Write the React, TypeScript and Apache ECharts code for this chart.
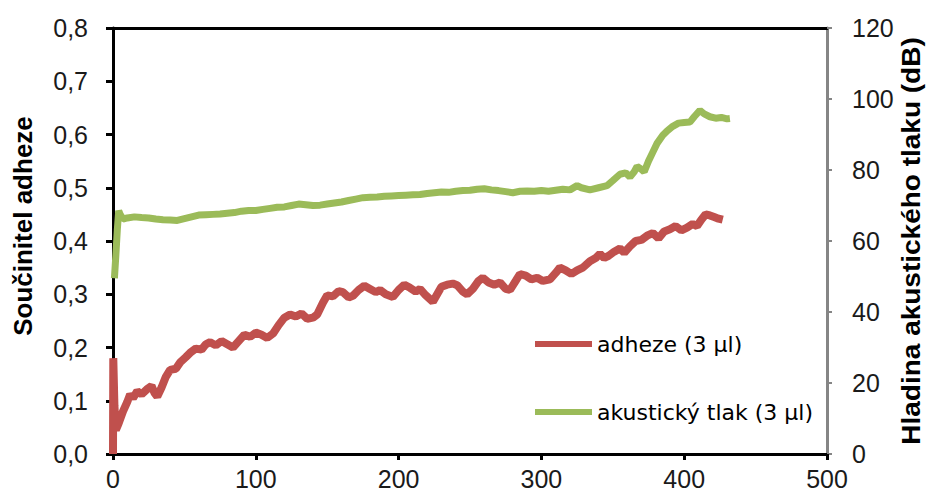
import React, { useEffect, useRef } from "react";
import * as echarts from "echarts";

// x: čas / vzdálenost, y: součinitel adheze
const adhezeData: [number, number][] = [
  [0, 0], [0.2, 0.18], [1, 0.09], [2, 0.045], [4, 0.058], [7, 0.08], [10, 0.098], [12, 0.112], [14, 0.105],
  [17, 0.118], [20, 0.112], [24, 0.122], [27, 0.128], [29, 0.115], [31, 0.108], [34, 0.125], [37, 0.145],
  [40, 0.158], [44, 0.16], [47, 0.172], [51, 0.182], [54, 0.19], [58, 0.198], [62, 0.196], [65, 0.206],
  [68, 0.21], [72, 0.204], [76, 0.212], [80, 0.206], [84, 0.2], [88, 0.212], [92, 0.224], [96, 0.22],
  [100, 0.228], [104, 0.224], [108, 0.218], [112, 0.226], [116, 0.242], [120, 0.256], [124, 0.262],
  [128, 0.258], [132, 0.264], [136, 0.254], [140, 0.256], [143, 0.262], [147, 0.284], [150, 0.298],
  [154, 0.296], [158, 0.306], [161, 0.304], [165, 0.294], [168, 0.297], [172, 0.308], [176, 0.316],
  [180, 0.31], [184, 0.304], [187, 0.308], [191, 0.3], [196, 0.295], [200, 0.308], [204, 0.318],
  [208, 0.312], [212, 0.305], [215, 0.31], [219, 0.298], [224, 0.286], [227, 0.3], [230, 0.314],
  [234, 0.318], [238, 0.32], [241, 0.317], [245, 0.305], [248, 0.3], [252, 0.31], [256, 0.325],
  [259, 0.331], [263, 0.322], [267, 0.318], [271, 0.322], [275, 0.31], [278, 0.308], [282, 0.325],
  [285, 0.338], [289, 0.335], [293, 0.328], [297, 0.331], [301, 0.325], [306, 0.328], [310, 0.34],
  [313, 0.35], [317, 0.345], [321, 0.338], [325, 0.345], [329, 0.35], [334, 0.362], [338, 0.368],
  [341, 0.376], [344, 0.368], [347, 0.372], [351, 0.38], [355, 0.386], [358, 0.378], [362, 0.39],
  [366, 0.4], [370, 0.402], [374, 0.41], [378, 0.415], [382, 0.405], [386, 0.418], [390, 0.422],
  [394, 0.428], [398, 0.42], [402, 0.425], [406, 0.432], [409, 0.428], [412, 0.44], [415, 0.45],
  [418, 0.448], [421, 0.445], [424, 0.442], [427, 0.44],
];

// akustický tlak v dB
const tlakData: [number, number][] = [
  [1, 49.5], [2, 56], [3, 63], [4, 68.5], [5, 67.5], [7, 66.2], [10, 66.5], [15, 66.8], [20, 66.6],
  [25, 66.5], [30, 66.2], [35, 66], [40, 65.9], [45, 65.8], [50, 66.3], [55, 66.8], [60, 67.3],
  [65, 67.4], [70, 67.5], [75, 67.6], [80, 67.8], [85, 68], [90, 68.4], [95, 68.6], [100, 68.6],
  [105, 68.9], [110, 69.2], [115, 69.5], [120, 69.6], [125, 70], [130, 70.4], [135, 70.2], [140, 70],
  [145, 70.1], [150, 70.4], [155, 70.7], [160, 71], [165, 71.4], [170, 71.8], [175, 72.2], [180, 72.3],
  [185, 72.4], [190, 72.6], [195, 72.7], [200, 72.8], [205, 72.9], [210, 73], [215, 73.1], [220, 73.4],
  [225, 73.6], [230, 73.8], [235, 73.7], [240, 74], [245, 74.2], [250, 74.3], [255, 74.6], [260, 74.7],
  [265, 74.4], [270, 74.2], [275, 73.9], [280, 73.6], [285, 74], [290, 74.1], [295, 74], [300, 74.2],
  [305, 74], [310, 74.3], [315, 74.6], [320, 74.4], [325, 75.6], [328, 75], [334, 74.4], [340, 75],
  [346, 75.6], [350, 77], [355, 78.8], [359, 79.2], [362, 78], [365, 79.5], [367, 81], [370, 80.2],
  [372, 79.5], [375, 82.5], [378, 85], [381, 87.5], [385, 89.8], [388, 91], [392, 92.3], [396, 93.2],
  [400, 93.4], [404, 93.5], [407, 95], [411, 96.8], [414, 95.8], [418, 95], [422, 94.6], [426, 94.8],
  [430, 94.4], [432, 94.5],
];

const seriesNames = ["adheze (3 µl)", "akustický tlak (3 µl)"];
const seriesColors = ["#C0504D", "#9BBB59"];
const leftTitle = "Součinitel adheze";
const rightTitle = "Hladina akustického tlaku (dB)";

export default function App() {
  const ref = useRef<HTMLDivElement>(null);
  useEffect(() => {
    if (!ref.current) return;
    const chart = echarts.init(ref.current, null, { renderer: "svg" });
    const tickFont = {
      fontFamily: "Liberation Sans",
      fontSize: 25,
      color: "#1a1a1a",
    };
    chart.setOption({
      animation: false,
      backgroundColor: "#ffffff",
      grid: { left: 113, right: 100, top: 28, bottom: 44, containLabel: false },
      legend: {
        orient: "vertical",
        left: 535,
        top: 331,
        padding: 0,
        icon: "rect",
        itemWidth: 57,
        itemHeight: 6,
        itemGap: 42,
        textStyle: {
          fontFamily: "DejaVu Sans",
          fontSize: 22,
          color: "#000",
          lineHeight: 26,
        },
        data: seriesNames.map((n, i) => ({ name: n, itemStyle: { color: seriesColors[i] } })),
      },
      xAxis: [
        {
          type: "value",
          min: 0,
          max: 500,
          interval: 100,
          axisLine: { show: true, onZero: false, lineStyle: { color: "#000", width: 3 } },
          axisTick: { show: true, inside: false, length: 6, lineStyle: { color: "#000", width: 3 } },
          axisLabel: { ...tickFont, margin: 12 },
          splitLine: { show: false },
        },
        {
          type: "value",
          position: "top",
          min: 0,
          max: 500,
          axisLine: { show: true, onZero: false, lineStyle: { color: "#000", width: 3 } },
          axisTick: { show: false },
          axisLabel: { show: false },
          splitLine: { show: false },
        },
      ],
      yAxis: [
        {
          type: "value",
          min: 0,
          max: 0.8,
          interval: 0.1,
          position: "left",
          axisLine: { show: true, onZero: false, lineStyle: { color: "#000", width: 3 } },
          axisTick: { show: true, length: 7, lineStyle: { color: "#000", width: 3 } },
          axisLabel: {
            ...tickFont,
            margin: 25,
            formatter: (v: number) => v.toFixed(1).replace(".", ","),
          },
          splitLine: { show: false },
        },
        {
          type: "value",
          min: 0,
          max: 120,
          interval: 20,
          position: "right",
          axisLine: { show: true, onZero: false, lineStyle: { color: "#858585", width: 3 } },
          axisTick: { show: true, length: 5, lineStyle: { color: "#858585", width: 2 } },
          axisLabel: { ...tickFont, margin: 25 },
          splitLine: { show: false },
        },
      ],
      graphic: [
        {
          type: "text",
          x: 23,
          y: 226,
          rotation: Math.PI / 2,
          style: {
            text: leftTitle,
            fontFamily: "Liberation Sans",
            fontWeight: "bold",
            fontSize: 26,
            fill: "#000",
            align: "center",
            verticalAlign: "middle",
          },
        },
        {
          type: "text",
          x: 912,
          y: 241,
          rotation: Math.PI / 2,
          scaleX: 1.12,
          style: {
            text: rightTitle,
            fontFamily: "Liberation Sans",
            fontWeight: "bold",
            fontSize: 25,
            fill: "#000",
            align: "center",
            verticalAlign: "middle",
          },
        },
      ],
      series: [
        {
          name: seriesNames[0],
          type: "line",
          xAxisIndex: 0,
          yAxisIndex: 0,
          data: adhezeData,
          symbol: "none",
          lineStyle: { color: seriesColors[0], width: 8 },
          itemStyle: { color: seriesColors[0] },
        },
        {
          name: seriesNames[1],
          type: "line",
          xAxisIndex: 0,
          yAxisIndex: 1,
          data: tlakData,
          symbol: "none",
          lineStyle: { color: seriesColors[1], width: 7 },
          itemStyle: { color: seriesColors[1] },
        },
      ],
    });
    return () => chart.dispose();
  }, []);
  return (
    <div
      ref={ref}
      style={{ position: "fixed", left: 0, top: 0, width: 927, height: 498, background: "#fff" }}
    />
  );
}
